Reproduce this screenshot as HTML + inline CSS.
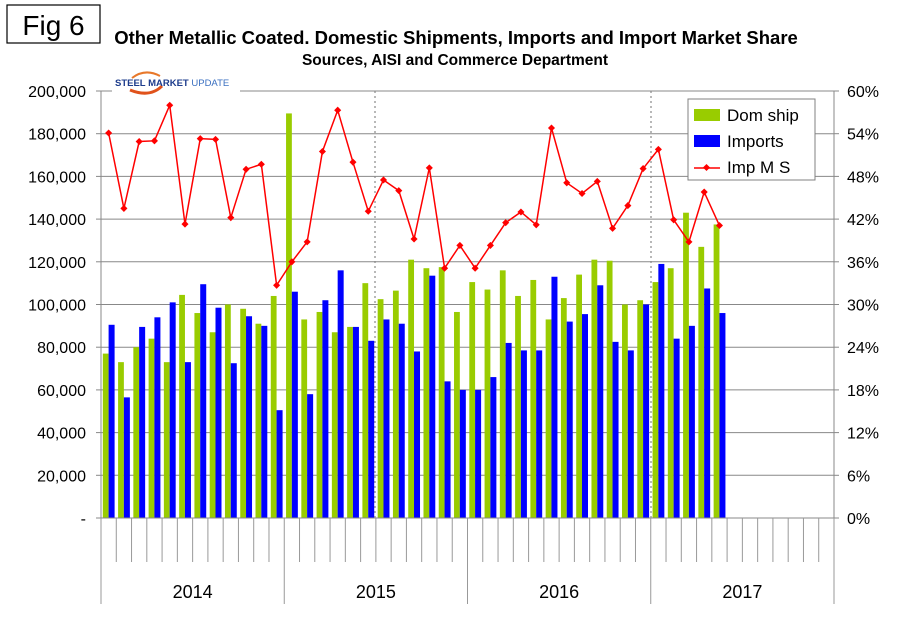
<!DOCTYPE html>
<html><head><meta charset="utf-8"><style>
body{margin:0;background:#fff;}
svg{display:block;font-family:"Liberation Sans",Arial,sans-serif;}
</style></head><body>
<svg id="chart" width="910" height="622" viewBox="0 0 910 622">
<rect x="0" y="0" width="910" height="622" fill="#fff"/>
<rect x="7" y="5" width="93" height="38" fill="#fff" stroke="#000" stroke-width="1.2"/>
<text x="53.5" y="35" font-size="28" text-anchor="middle">Fig 6</text>
<text x="456" y="44" font-size="18.5" font-weight="bold" text-anchor="middle">Other Metallic Coated. Domestic Shipments, Imports and Import Market Share</text>
<text x="455" y="65" font-size="15.5" font-weight="bold" text-anchor="middle">Sources, AISI and Commerce Department</text>
<g id="grid"></g>
<g id="bars"></g>
<g id="line"></g>
<g id="axes"></g>
<g>
<rect x="112" y="72" width="128" height="20" fill="#fff"/>
<path d="M130,90 Q150,98 162,86" stroke="#e0521b" stroke-width="3" fill="none"/>
<path d="M132,78 Q145,68 160,76" stroke="#e8782a" stroke-width="2" fill="none"/>
<text x="115" y="86" font-size="9.5" font-weight="bold" fill="#1d3c8c">STEEL <tspan>MARKET</tspan> <tspan font-weight="normal" fill="#3a6fc0">UPDATE</tspan></text>
</g>
<g>
<rect x="688" y="99" width="127" height="81" fill="#fff" stroke="#808080" stroke-width="1"/>
<rect x="694" y="109" width="26" height="12" fill="#99cc00"/>
<text x="727" y="121" font-size="17">Dom ship</text>
<rect x="694" y="135" width="26" height="12" fill="#0000ff"/>
<text x="727" y="147" font-size="17">Imports</text>
<line x1="694" y1="168" x2="720" y2="168" stroke="#ff0000" stroke-width="1.5"/>
<rect x="704" y="165" width="5" height="5" fill="#ff0000" transform="rotate(45 706.5 167.5)"/>
<text x="727" y="173" font-size="17">Imp M S</text>
</g>
</svg>
<script>
const domShip=[77,73,80,84,73,104.5,96,87,100,98,91,104,189.5,93,96.5,87,89.5,110,102.5,106.5,121,117,117.5,96.5,110.5,107,116,104,111.5,93,103,114,121,120.5,100,102,110.5,117,143,127,137.5];
const imports=[90.5,56.5,89.5,94,101,73,109.5,98.5,72.5,94.5,90,50.5,106,58,102,116,89.5,83,93,91,78,113.5,64,60,60,66,82,78.5,78.5,113,92,95.5,109,82.5,78.5,100,119,84,90,107.5,96];
const impShare=[54.1,43.5,52.9,53,58,41.3,53.3,53.2,42.2,49,49.7,32.7,36,38.8,51.5,57.3,50,43.1,47.5,46,39.2,49.2,35.1,38.3,35.1,38.3,41.5,43,41.2,54.8,47.1,45.6,47.3,40.7,43.9,49.1,51.8,41.9,38.8,45.8,41.1];
const years=["2014","2015","2016","2017"];
const leftTicks=["-","20,000","40,000","60,000","80,000","100,000","120,000","140,000","160,000","180,000","200,000"];
const rightTicks=["0%","6%","12%","18%","24%","30%","36%","42%","48%","54%","60%"];

const NS="http://www.w3.org/2000/svg";
const X0=101,X1=834,Y0=518,Y1=91,NM=48;
const mw=(X1-X0)/NM;
const yL=v=>Y0-(v/200)*(Y0-Y1);
const yR=v=>Y0-(v/60)*(Y0-Y1);
const xM=i=>X0+i*mw;
function mk(tag,attrs,parent){const e=document.createElementNS(NS,tag);for(const k in attrs)e.setAttribute(k,attrs[k]);parent.appendChild(e);return e;}
const grid=document.getElementById('grid'),bars=document.getElementById('bars'),line=document.getElementById('line'),axes=document.getElementById('axes');
for(let i=0;i<leftTicks.length;i++){
  const y=Y0-i*(Y0-Y1)/10;
  if(i>0){const g=mk('line',{x1:X0,y1:y,x2:X1,y2:y,stroke:'#888','stroke-width':1},grid);
  
  }
  mk('line',{x1:X0-5,y1:y,x2:X0,y2:y,stroke:'#888'},axes);
  mk('line',{x1:X1,y1:y,x2:X1+5,y2:y,stroke:'#888'},axes);
  const t=mk('text',{x:86,y:y+6,'font-size':16,'text-anchor':'end'},axes);t.textContent=leftTicks[i];
  
  
  const r=mk('text',{x:847,y:y+6,'font-size':16},axes);r.textContent=rightTicks[i];
  
  
}
[375,651].forEach(x=>mk('line',{x1:x,y1:Y1,x2:x,y2:Y0,stroke:'#888','stroke-dasharray':'2,3','stroke-width':1.2},grid));
for(let i=0;i<domShip.length;i++){
  const x=xM(i);
  const g=mk('rect',{x:x+1.8,y:yL(domShip[i]),width:5.8,height:Y0-yL(domShip[i]),fill:'#99cc00'},bars);
  
  
  const b=mk('rect',{x:x+7.6,y:yL(imports[i]),width:6,height:Y0-yL(imports[i]),fill:'#0000ff'},bars);
  
  
}
let pts=impShare.map((v,i)=>(xM(i)+mw/2)+','+yR(v)).join(' ');
const pl=mk('polyline',{points:pts,fill:'none',stroke:'#ff0000','stroke-width':1.5},line);


impShare.forEach((v,i)=>{const cx=xM(i)+mw/2,cy=yR(v);
  const d=mk('rect',{x:cx-2.5,y:cy-2.5,width:5,height:5,fill:'#ff0000',transform:`rotate(45 ${cx} ${cy})`},line);
  
  });
mk('line',{x1:X0,y1:Y1,x2:X0,y2:Y0,stroke:'#888'},axes);
mk('line',{x1:X1,y1:Y1,x2:X1,y2:Y0,stroke:'#888'},axes);
mk('line',{x1:X0,y1:Y0,x2:X1,y2:Y0,stroke:'#888'},axes);
for(let i=0;i<=NM;i++){const x=xM(i);const yr=i%12===0;
  mk('line',{x1:x,y1:Y0,x2:x,y2:yr?604:562,stroke:'#999'},axes);}
years.forEach((yy,k)=>{const t=mk('text',{x:X0+(k+0.5)*12*mw,y:598,'font-size':18,'text-anchor':'middle'},axes);t.textContent=yy;
  
  });
</script>
</body></html>
